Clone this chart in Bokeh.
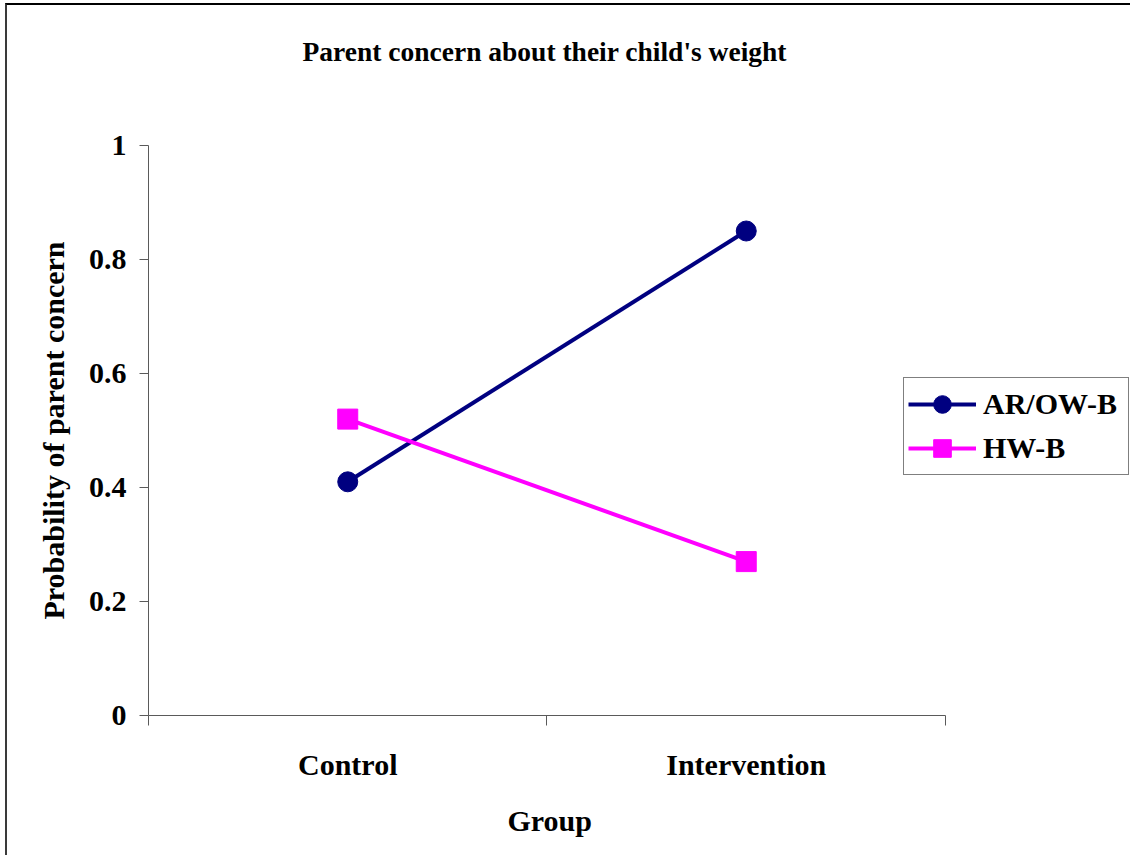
from bokeh.plotting import figure
from bokeh.models import Range1d, FixedTicker, Legend, LegendItem, Title
from bokeh.embed import file_html
from bokeh.resources import INLINE

# ---- data ----
groups = ["Control", "Intervention"]
group_pos = [0.5, 1.5]
group_bounds = [0, 1, 2]
ar_ow_b = [0.41, 0.85]
hw_b = [0.52, 0.27]
y_ticks = [0, 0.2, 0.4, 0.6, 0.8, 1]
y_tick_labels = ["0", "0.2", "0.4", "0.6", "0.8", "1"]
series_names = ["AR/OW-B", "HW-B"]
chart_title = "Parent concern about their child's weight"
x_title = "Group"
y_title = "Probability of parent concern"

FONT = "Liberation Serif"

# frame extends to the right so that the legend (which overlaps the
# axis extent) is not clipped; the x axis itself is bounded to 0..2
p = figure(width=1125, height=852, output_backend="svg", toolbar_location=None,
           x_range=Range1d(0, 2.4693), y_range=Range1d(0, 1),
           title_location=None,
           min_border_left=141, min_border_right=0,
           min_border_top=140, min_border_bottom=142)
p.styles = {"border-left": "2px solid #3a3a3a", "border-top": "2px solid #000000",
            "margin-left": "5px", "margin-top": "3px"}

p.outline_line_color = None
p.xgrid.visible = False
p.ygrid.visible = False
p.background_fill_color = "white"
p.border_fill_color = "white"

# title: a thin spacer next to the frame, then the title text above it
p.add_layout(Title(text=" ", text_font_size="1px", standoff=76), "above")
p.add_layout(Title(text=chart_title, text_font=FONT, text_font_style="bold",
                   text_font_size="27.5px", text_color="black",
                   align="left", offset=154, standoff=0), "above")

AX = "#5a5a5a"
# x axis
xa = p.xaxis[0]
xa.bounds = (group_bounds[0], group_bounds[-1])
xa.ticker = FixedTicker(ticks=group_pos, minor_ticks=group_bounds)
xa.major_label_overrides = {group_pos[i]: groups[i] for i in range(len(groups))}
xa.major_tick_line_color = None
xa.major_tick_in = 0
xa.major_tick_out = 10
xa.minor_tick_in = 0
xa.minor_tick_out = 10
xa.minor_tick_line_color = AX
xa.axis_line_color = AX
xa.major_label_text_font = FONT
xa.major_label_text_font_style = "bold"
xa.major_label_text_font_size = "30px"
xa.major_label_text_color = "black"
xa.major_label_standoff = 22

# x axis title, centred under the bounded axis (not the wider frame)
p.add_layout(Title(text=x_title, text_font=FONT, text_font_style="bold",
                   text_font_size="30px", text_color="black",
                   align="left", offset=359, standoff=37), "below")

# y axis
ya = p.yaxis[0]
ya.ticker = FixedTicker(ticks=y_ticks, minor_ticks=[])
ya.major_label_overrides = {y_ticks[i]: y_tick_labels[i] for i in range(len(y_ticks))}
ya.major_tick_in = 0
ya.major_tick_out = 9
ya.major_tick_line_color = AX
ya.minor_tick_line_color = None
ya.axis_line_color = AX
ya.major_label_text_font = FONT
ya.major_label_text_font_style = "bold"
ya.major_label_text_font_size = "30px"
ya.major_label_text_color = "black"
ya.major_label_standoff = 13
ya.axis_label = y_title
ya.axis_label_text_font = FONT
ya.axis_label_text_font_style = "bold"
ya.axis_label_text_font_size = "30px"
ya.axis_label_text_color = "black"
ya.axis_label_standoff = 16

# series
l1 = p.line(group_pos, ar_ow_b, line_color="#000080", line_width=4)
s1 = p.scatter(group_pos, ar_ow_b, marker="circle", size=20,
               fill_color="#000080", line_color="#000080")
l2 = p.line(group_pos, hw_b, line_color="#FF00FF", line_width=4)
s2 = p.scatter(group_pos, hw_b, marker="square", size=20,
               fill_color="#FF00FF", line_color="#FF00FF")

legend = Legend(items=[LegendItem(label=series_names[0], renderers=[l1, s1]),
                       LegendItem(label=series_names[1], renderers=[l2, s2])],
                location=(755, 240))
legend.label_text_font = FONT
legend.label_text_font_style = "bold"
legend.label_text_font_size = "30px"
legend.label_text_color = "black"
legend.glyph_width = 68
legend.glyph_height = 44
legend.label_height = 44
legend.label_width = 141
legend.label_standoff = 7
legend.padding = 4
legend.spacing = 0
legend.margin = 0
legend.border_line_color = "black"
legend.border_line_width = 1.5
legend.background_fill_color = "white"
legend.background_fill_alpha = 1
p.add_layout(legend, "center")

open("out.html", "w").write(file_html(p, INLINE))
